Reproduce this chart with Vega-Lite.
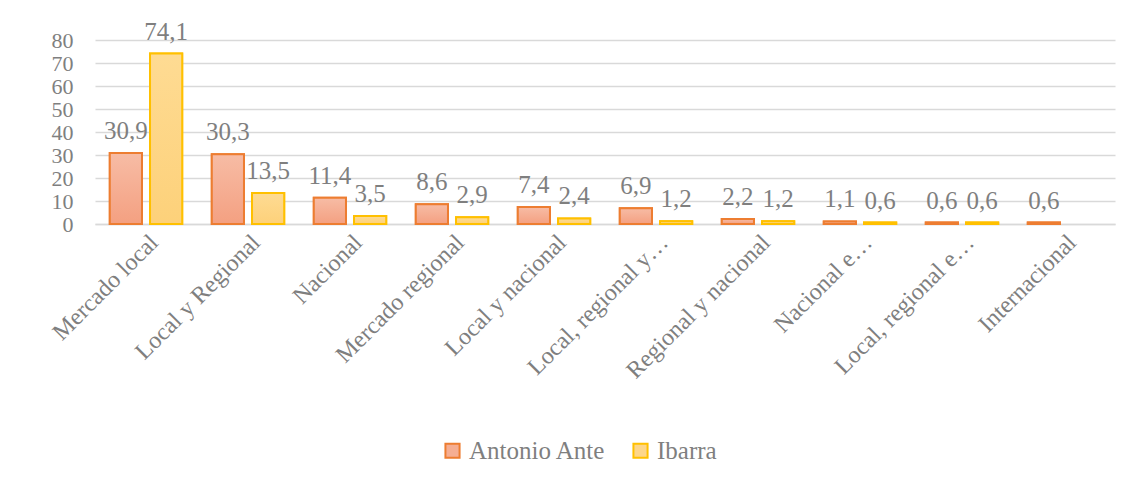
{
  "$schema": "https://vega.github.io/schema/vega-lite/v6.json",
  "width": 1020,
  "height": 184,
  "autosize": {"type": "none"},
  "padding": {"left": 95, "top": 40, "right": 15, "bottom": 260},
  "background": "white",
  "config": {
    "locale": {"number": {"decimal": ",", "thousands": ".", "grouping": [3], "currency": ["", "€"]}},
    "font": "Liberation Serif",
    "view": {"stroke": null}
  },
  "data": {"values": [
    {"cat": "Mercado local", "serie": "Antonio Ante", "v": 30.9},
    {"cat": "Mercado local", "serie": "Ibarra", "v": 74.1},
    {"cat": "Local y Regional", "serie": "Antonio Ante", "v": 30.3},
    {"cat": "Local y Regional", "serie": "Ibarra", "v": 13.5},
    {"cat": "Nacional", "serie": "Antonio Ante", "v": 11.4},
    {"cat": "Nacional", "serie": "Ibarra", "v": 3.5},
    {"cat": "Mercado regional", "serie": "Antonio Ante", "v": 8.6},
    {"cat": "Mercado regional", "serie": "Ibarra", "v": 2.9},
    {"cat": "Local y nacional", "serie": "Antonio Ante", "v": 7.4},
    {"cat": "Local y nacional", "serie": "Ibarra", "v": 2.4},
    {"cat": "Local, regional y…", "serie": "Antonio Ante", "v": 6.9},
    {"cat": "Local, regional y…", "serie": "Ibarra", "v": 1.2},
    {"cat": "Regional y nacional", "serie": "Antonio Ante", "v": 2.2},
    {"cat": "Regional y nacional", "serie": "Ibarra", "v": 1.2},
    {"cat": "Nacional e…", "serie": "Antonio Ante", "v": 1.1},
    {"cat": "Nacional e…", "serie": "Ibarra", "v": 0.6},
    {"cat": "Local, regional e…", "serie": "Antonio Ante", "v": 0.6},
    {"cat": "Local, regional e…", "serie": "Ibarra", "v": 0.6},
    {"cat": "Internacional", "serie": "Antonio Ante", "v": 0.6}
  ]},
  "encoding": {
    "x": {
      "field": "cat", "type": "nominal", "sort": null,
      "scale": {"paddingInner": 0.29, "paddingOuter": 0.145},
      "axis": {
        "title": null, "labelAngle": -45, "labelFontSize": 24, "labelColor": "#7f7f7f",
        "labelFont": "Liberation Serif", "ticks": false, "labelPadding": 6,
        "domainColor": "#d9d9d9", "domainWidth": 1.5, "labelLimit": 300, "labelOverlap": false
      }
    },
    "xOffset": {"field": "serie", "type": "nominal", "scale": {"domain": ["Antonio Ante", "Ibarra"], "paddingInner": 0.2}},
    "y": {
      "field": "v", "type": "quantitative",
      "scale": {"domain": [0, 80]},
      "axis": {
        "title": null, "values": [0, 10, 20, 30, 40, 50, 60, 70, 80], "labelFontSize": 22,
        "labelColor": "#7f7f7f", "labelFont": "Liberation Serif", "ticks": false,
        "labelPadding": 22, "domain": false, "gridColor": "#d9d9d9", "gridWidth": 1.5,
        "labelOverlap": false, "labelBound": false
      }
    }
  },
  "layer": [
    {
      "mark": {"type": "bar", "strokeWidth": 2},
      "encoding": {
        "stroke": {
          "field": "serie", "type": "nominal",
          "scale": {"domain": ["Antonio Ante", "Ibarra"], "range": ["#ed7d31", "#ffc000"]},
          "legend": {
            "title": null, "orient": "none", "direction": "horizontal",
            "legendX": 345, "legendY": 398, "labelFontSize": 25, "labelColor": "#7f7f7f",
            "labelFont": "Liberation Serif", "symbolType": "square", "symbolSize": 200,
            "symbolStrokeWidth": 2, "columnPadding": 22, "labelOffset": 4
          }
        },
        "fill": {
          "field": "serie", "type": "nominal",
          "scale": {"domain": ["Antonio Ante", "Ibarra"], "range": ["#f5ae93", "#fdd68a"]}
        }
      }
    },
    {
      "mark": {"type": "bar", "strokeWidth": 2},
      "encoding": {
        "stroke": {
          "condition": {"test": "datum.serie === 'Ibarra'", "value": "#ffc000"},
          "value": "#ed7d31"
        },
        "fill": {
          "condition": {
            "test": "datum.serie === 'Ibarra'",
            "value": {"gradient": "linear", "x1": 0, "y1": 0, "x2": 0, "y2": 1, "stops": [{"offset": 0, "color": "#fedb93"}, {"offset": 1, "color": "#fdd17a"}]}
          },
          "value": {"gradient": "linear", "x1": 0, "y1": 0, "x2": 0, "y2": 1, "stops": [{"offset": 0, "color": "#f7bca5"}, {"offset": 1, "color": "#f4a081"}]}
        }
      }
    },
    {
      "mark": {"type": "text", "baseline": "middle", "dy": -22, "fontSize": 25, "color": "#7f7f7f", "font": "Liberation Serif"},
      "encoding": {"text": {"field": "v", "type": "quantitative", "format": ".1f"}}
    }
  ]
}
